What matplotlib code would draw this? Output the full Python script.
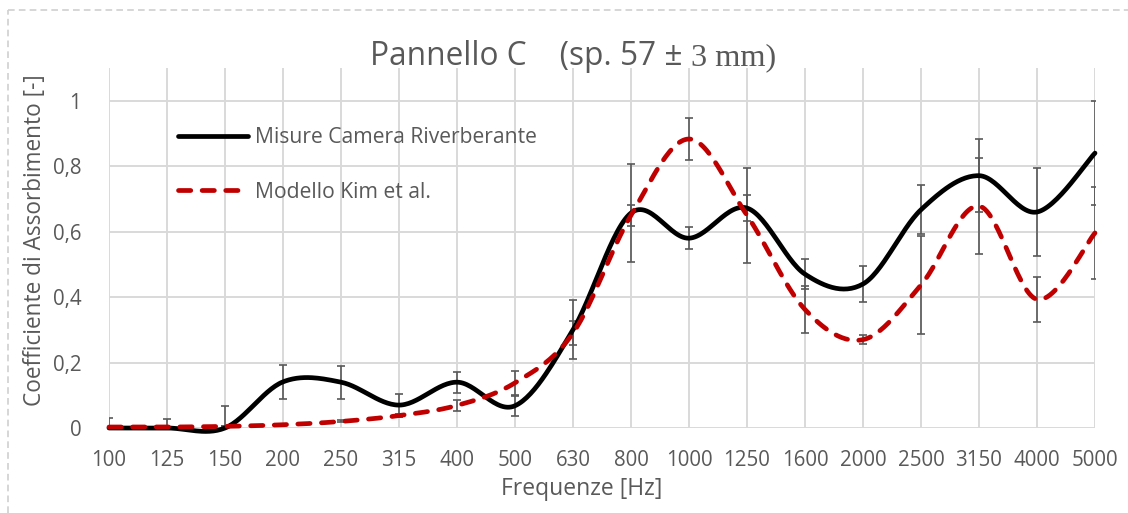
import numpy as np
import matplotlib
matplotlib.use("Agg")
import matplotlib.pyplot as plt
from matplotlib.lines import Line2D

# ---- data ----
freqs = ["100", "125", "150", "200", "250", "315", "400", "500", "630", "800",
         "1000", "1250", "1600", "2000", "2500", "3150", "4000", "5000"]
misure = [0.0, 0.0, 0.0, 0.141, 0.14, 0.07, 0.14, 0.068, 0.30, 0.657,
          0.58, 0.672, 0.47, 0.44, 0.667, 0.771, 0.66, 0.84]
misure_err = [0.03, 0.028, 0.068, 0.052, 0.05, 0.035, 0.032, 0.03, 0.09, 0.15,
              0.034, 0.041, 0.045, 0.055, 0.075, 0.112, 0.134, 0.16]
modello = [0.003, 0.003, 0.005, 0.01, 0.02, 0.038, 0.069, 0.138, 0.29, 0.65,
           0.883, 0.65, 0.362, 0.27, 0.437, 0.678, 0.393, 0.596]
modello_err = [0.0, 0.0, 0.0, 0.0, 0.003, 0.004, 0.017, 0.037, 0.037, 0.032,
               0.063, 0.145, 0.073, 0.013, 0.15, 0.146, 0.068, 0.14]
yticks = [0, 0.2, 0.4, 0.6, 0.8, 1.0]
ytick_labels = ["0", "0,2", "0,4", "0,6", "0,8", "1"]

TXT = "#595959"
GRID = "#d9d9d9"
RED = "#c00000"
SANS = ["Open Sans", "DejaVu Sans"]
SERIF = ["Liberation Serif", "DejaVu Serif"]


def smooth(y, n=30):
    """Excel-like smoothed line (Catmull-Rom / cubic Bezier with 1/6 tension)."""
    y = np.asarray(y, float)
    x = np.arange(len(y), dtype=float)
    xs, ys = [], []
    for i in range(len(y) - 1):
        p0 = i - 1 if i > 0 else i
        p3 = i + 2 if i + 2 < len(y) else i + 1
        P0 = np.array([x[i], y[i]])
        P3 = np.array([x[i + 1], y[i + 1]])
        C1 = P0 + (np.array([x[i + 1], y[i + 1]]) - np.array([x[p0], y[p0]])) / 6
        C2 = P3 - (np.array([x[p3], y[p3]]) - np.array([x[i], y[i]])) / 6
        t = np.linspace(0, 1, n, endpoint=(i == len(y) - 2))[:, None]
        B = ((1 - t) ** 3) * P0 + 3 * ((1 - t) ** 2) * t * C1 + 3 * (1 - t) * t ** 2 * C2 + t ** 3 * P3
        xs.append(B[:, 0]); ys.append(B[:, 1])
    return np.concatenate(xs), np.concatenate(ys)


W, H = 1128, 513
fig = plt.figure(figsize=(W / 100, H / 100), dpi=100)
fig.patch.set_facecolor("white")

ax = fig.add_axes([109 / W, 1 - 428 / H, (1095 - 109) / W, (428 - 68) / H])
x = np.arange(len(freqs))

ax.set_xlim(0, len(freqs) - 1)
ax.set_ylim(0, 1.1)
ax.set_yticks(yticks)
ax.set_yticklabels(ytick_labels)
ax.set_xticks(x)
ax.set_xticklabels(freqs)
ax.grid(True, color=GRID, linewidth=1.4)
ax.set_axisbelow(True)
for s in ax.spines.values():
    s.set_visible(False)
ax.tick_params(length=0, colors=TXT, labelsize=14.8, pad=16)
ax.tick_params(axis="y", pad=20)
for lab in ax.get_xticklabels() + ax.get_yticklabels():
    lab.set_family(SANS)

# error bars
ax.errorbar(x, misure, yerr=misure_err, fmt="none", ecolor=TXT, elinewidth=1.2,
            capsize=3, capthick=1.2, zorder=2)
ax.errorbar(x, modello, yerr=modello_err, fmt="none", ecolor=TXT, elinewidth=1.2,
            capsize=3, capthick=1.2, zorder=2)

# smoothed lines
xs, ys = smooth(misure)
ax.plot(xs, ys, color="black", lw=3.4, solid_capstyle="round", zorder=3, clip_on=False)
xs2, ys2 = smooth(modello)
ax.plot(xs2, ys2, color=RED, lw=3.4, dashes=(2.6, 2.4), dash_capstyle="round",
        zorder=4, clip_on=False)

handles = [Line2D([], [], color="black", lw=3.4, solid_capstyle="round"),
           Line2D([], [], color=RED, lw=3.4, dashes=(2.6, 2.4), dash_capstyle="round")]
leg = ax.legend(handles, ["Misure Camera Riverberante", "Modello Kim et al."],
                loc="upper left", bbox_to_anchor=((178 - 109) / 986, (428 - 127) / 360),
                frameon=False, borderaxespad=0, borderpad=0, handlelength=3.3,
                handletextpad=0.33, labelspacing=1.6,
                prop={"family": SANS, "size": 15.2})
for t in leg.get_texts():
    t.set_color(TXT)

ax.set_xlabel("Frequenze [Hz]", color=TXT, fontsize=16.5, family=SANS)
ax.xaxis.set_label_coords((582 - 109) / 986, (428 - 477) / 360)
ax.set_ylabel("Coefficiente di Assorbimento [-]", color=TXT, fontsize=16.3,
              family=SANS)
ax.yaxis.set_label_coords((47 - 109) / 986, (428 - 240) / 360)

# title: sans part + serif part
yb = 1 - 65 / H
t1 = fig.text(0.5, yb, "Pannello C    (sp. 57 \u00b1 ", color=TXT, fontsize=22.8,
              family=SANS, ha="left", va="baseline")
t2 = fig.text(0.5, yb, "3 mm)", color=TXT, fontsize=23.3, family=SERIF,
              ha="left", va="baseline")
fig.canvas.draw()
r = fig.canvas.get_renderer()
w1 = t1.get_window_extent(r).width
w2 = t2.get_window_extent(r).width
x0 = 573 - (w1 + w2) / 2
t1.set_x(x0 / W)
t2.set_x((x0 + w1) / W)

# chart-area border (dashed, light gray)
fig.add_artist(Line2D([8 / W, 1.0], [1 - 10 / H, 1 - 10 / H], color="#d0d0d0",
                      lw=1.2, dashes=(4, 2.5), transform=fig.transFigure))
fig.add_artist(Line2D([8 / W, 8 / W], [0.0, 1 - 10 / H], color="#d0d0d0",
                      lw=1.2, dashes=(4, 2.5), transform=fig.transFigure))

fig.savefig("out.png", dpi=100)
